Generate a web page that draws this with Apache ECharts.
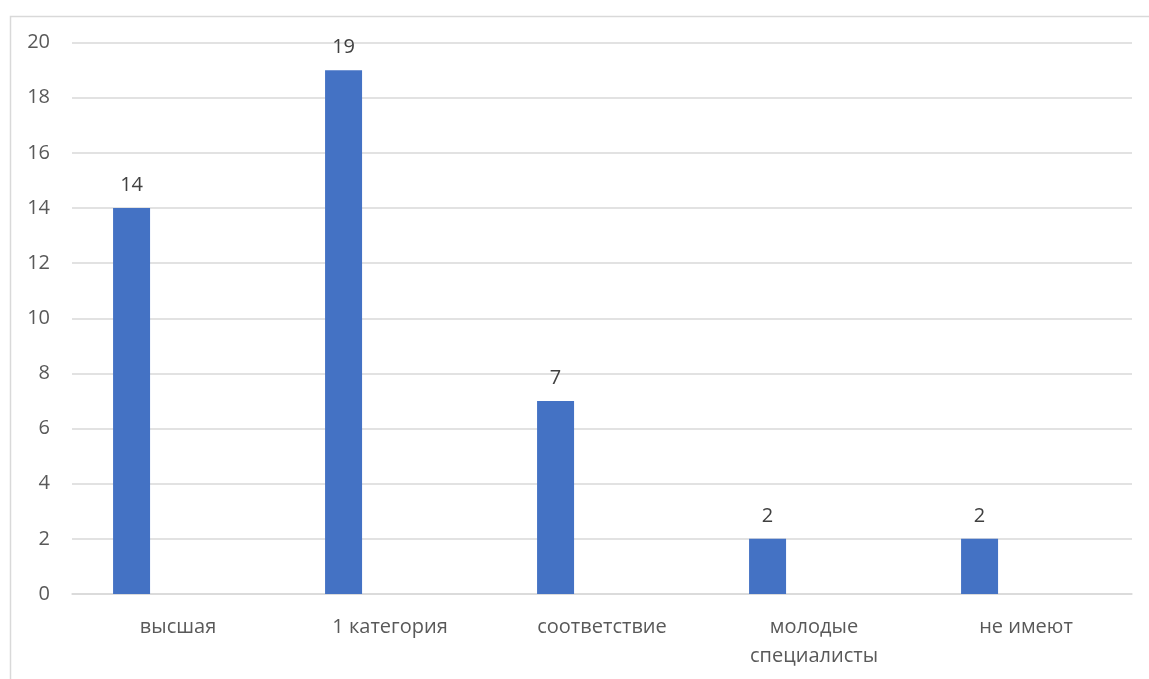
<!DOCTYPE html>
<html><head><meta charset="utf-8">
<script src="https://cdn.jsdelivr.net/npm/echarts@6/dist/echarts.min.js"></script>
<style>html,body{margin:0;padding:0;background:#fff}#c{width:1149px;height:679px}</style>
</head><body><div id="c"></div>
<script>
const categories = ['высшая', '1 категория', 'соответствие', 'молодые\nспециалисты', 'не имеют'];
const values = [14, 19, 7, 2, 2];
const emptySeries = ['-', '-', '-', '-', '-'];
const yTicks = { min: 0, max: 20, interval: 2 };

const chart = echarts.init(document.getElementById('c'), null, { renderer: 'canvas' });
chart.setOption({
  animation: false,
  backgroundColor: '#fff',
  textStyle: { fontFamily: '"Open Sans", "Noto Sans", sans-serif' },
  graphic: [{
    type: 'rect', left: 8, top: 14, shape: { width: 1300, height: 800 },
    style: { fill: 'none', stroke: '#d9d9d9', lineWidth: 1.5 }, silent: true
  }],
  grid: { left: 72, right: 17, top: 42.6, bottom: 85 },
  xAxis: {
    type: 'category', data: categories,
    axisLine: { show: true, lineStyle: { color: '#d9d9d9', width: 1.5 } },
    axisTick: { show: false },
    axisLabel: { color: '#595959', fontSize: 20, margin: 19, lineHeight: 29, interval: 0 }
  },
  yAxis: {
    type: 'value', min: yTicks.min, max: yTicks.max, interval: yTicks.interval,
    axisLine: { show: false }, axisTick: { show: false },
    axisLabel: { color: '#595959', fontSize: 20, margin: 22 },
    splitLine: { lineStyle: { color: '#d9d9d9', width: 1.5 } }
  },
  series: [{
    type: 'bar', data: values, barWidth: 37, barGap: '151%',
    itemStyle: { color: '#4472c4' },
    label: { show: true, position: 'top', distance: 13, color: '#404040', fontSize: 20 }
  }, {
    type: 'bar', data: emptySeries, barWidth: 37,
    itemStyle: { color: '#ed7d31' }
  }]
});
</script></body></html>
